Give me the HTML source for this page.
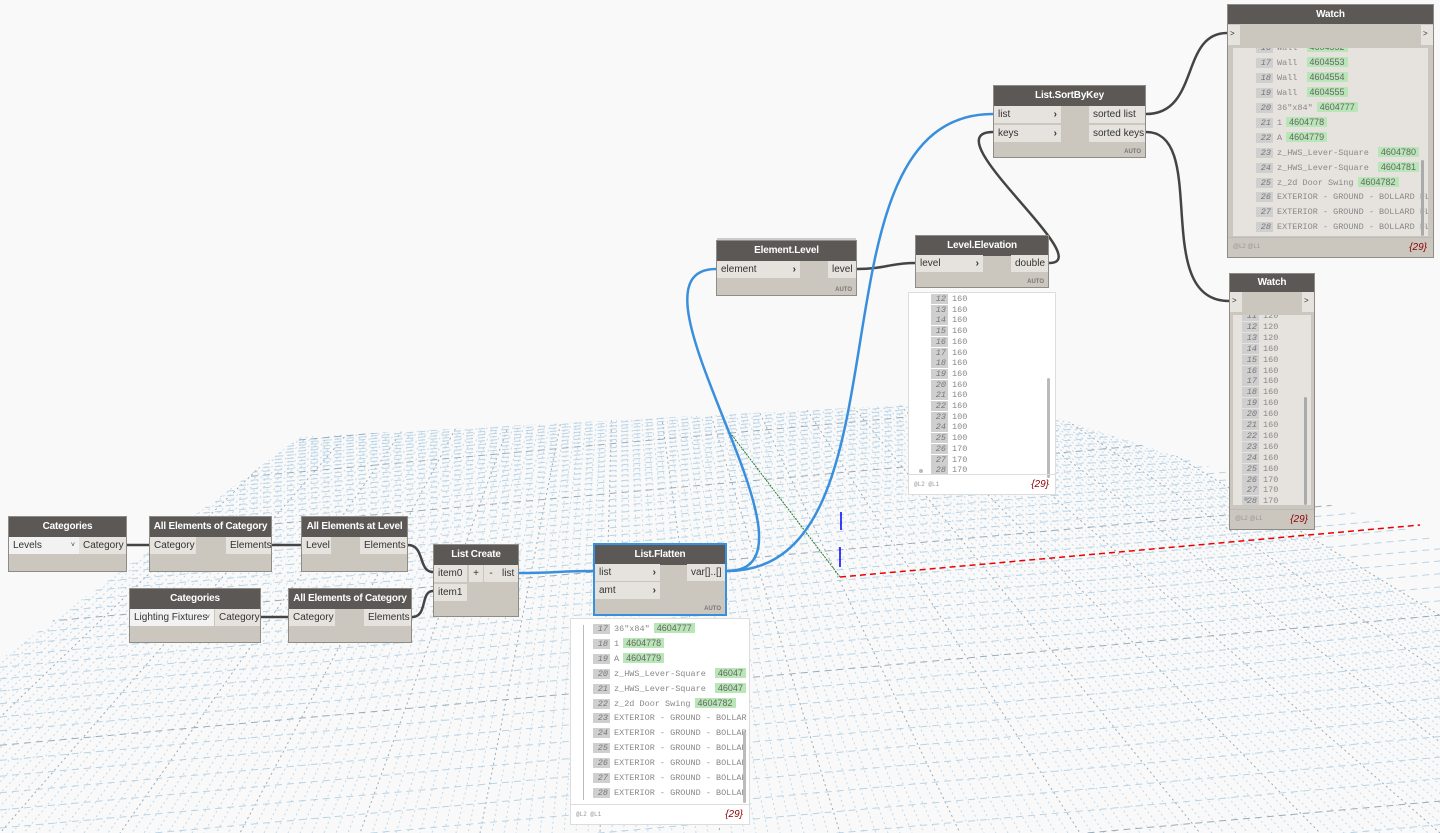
<!DOCTYPE html>
<html><head><meta charset="utf-8">
<style>
*{box-sizing:border-box;margin:0;padding:0}
html{overflow:hidden}
body{width:1440px;height:833px;background:#f9f9f9;position:relative;overflow:hidden;font-family:"Liberation Sans",sans-serif}
svg.bg{position:absolute;left:0;top:0}
.node{position:absolute;background:#cbc6be;border:1px solid #8f8c88}
.hd{background:#5b5855;color:#fff;font-weight:bold;font-size:10px;letter-spacing:-0.2px;text-align:center;height:20px;line-height:20px;white-space:nowrap;overflow:hidden}
.p{position:absolute;background:#e6e3de;font-size:10px;color:#333;height:17px;line-height:17px;padding-left:4px;white-space:nowrap}
.ar{position:absolute;right:4px;top:0;font-weight:bold;color:#333}
.auto{position:absolute;right:4px;bottom:2px;font-size:6px;font-weight:bold;color:#777}
.prev{position:absolute;background:#fff;border:1px solid #ddd;font-family:"Liberation Mono",monospace;font-size:8.5px;color:#888;overflow:hidden}
.r{position:absolute;white-space:nowrap}
.i{display:inline-block;background:#cfcfcf;color:#777;font-style:italic;width:17px;text-align:right;padding-right:2px;margin-right:4px;height:10px;line-height:10px}
.g{background:#b9e6b7;color:#666;padding:0 3px;margin-left:4px;font-family:"Liberation Sans",sans-serif;font-size:9px}
.ft{position:absolute;left:0;right:0;bottom:0;height:20px;border-top:1px solid #ddd;font-size:6px;color:#999;padding:6px 5px}
.ft b{position:absolute;right:6px;top:4px;font-size:10px;font-weight:normal;color:#8b0000;font-style:italic;font-family:"Liberation Sans",sans-serif}
.sb{position:absolute;width:3px;background:#bbb;border-radius:2px}
</style></head><body>
<svg class="bg" width="1440" height="833" id="grid">
<defs><clipPath id="cp"><polygon points="300,437 1000,400 1440,540 1440,833 0,833 0,660"/></clipPath></defs>
<g id="gl" clip-path="url(#cp)" fill="none"></g>
<line x1="728" y1="430" x2="840" y2="577" stroke="#2a7a2a" stroke-width="1" stroke-dasharray="2 1"/>
<polyline points="840,577 1420,525" stroke="#e00" stroke-width="1.5" stroke-dasharray="6 4" fill="none"/>
<line x1="841" y1="512" x2="841" y2="530" stroke="#00f" stroke-width="1.5"/>
<line x1="840" y1="547" x2="840" y2="567" stroke="#00f" stroke-width="1.5"/>
</svg>
<script>
(function(){var g=document.getElementById('gl'),s='',vx=620,vy=120;
for(var k=-60;k<=150;k++){var bx=k*12,c=(k%10==0)?'#98abba':'#c3d9e9';s+='<line x1="'+vx+'" y1="'+vy+'" x2="'+bx+'" y2="833" stroke="'+c+'" stroke-dasharray="2 3"/>';}
var y=437,gap=2.6,i=0;while(y<1100){var c=(i%10==0)?'#98abba':'#b8d3e6';s+='<line x1="0" y1="'+(y+30)+'" x2="1440" y2="'+(y-100)+'" stroke="'+c+'" stroke-dasharray="7 5"/>';y+=gap;gap*=1.045;i++;}
g.innerHTML=s;})();
</script>
<svg class="bg" width="1440" height="833" fill="none" stroke-width="2.5">
<g stroke="#444">
<path d="M127,545 L149,545"/><path d="M272,545 L301,545"/>
<path d="M408,545 C425,545 418,572 433,572"/>
<path d="M261,617 L288,617"/>
<path d="M412,617 C428,617 420,591 433,591"/>
<path d="M857,269 C885,269 890,263 915,263"/>
<path d="M1049,263 C1100,263 930,132 993,132"/>
<path d="M1146,114 C1200,114 1180,33 1227,33"/>
<path d="M1146,132 C1210,132 1150,301 1229,301"/>
</g>
<g stroke="#3a8fdc">
<path d="M519,573 C555,573 560,571 593,571"/>
<path d="M727,571 C840,571 610,269 716,269"/>
<path d="M727,571 C920,571 800,114 993,114"/>
</g>
</svg>

<div class="node" style="left:8px;top:516px;width:119px;height:56px"><div class="hd">Categories</div>
<div class="p" style="left:0;top:20px;width:70px;background:#f2f2f2">Levels<span class="ar" style="font-size:7px;font-weight:normal">˅</span></div>
<div class="p" style="right:0;top:20px;width:47px">Category</div></div>

<div class="node" style="left:149px;top:516px;width:123px;height:56px"><div class="hd">All Elements of Category</div>
<div class="p" style="left:0;top:20px;width:46px">Category</div>
<div class="p" style="right:0;top:20px;width:45px">Elements</div></div>

<div class="node" style="left:301px;top:516px;width:107px;height:56px"><div class="hd">All Elements at Level</div>
<div class="p" style="left:0;top:20px;width:29px">Level</div>
<div class="p" style="right:0;top:20px;width:47px">Elements</div></div>

<div class="node" style="left:129px;top:588px;width:132px;height:55px"><div class="hd">Categories</div>
<div class="p" style="left:0;top:20px;width:84px;background:#f2f2f2">Lighting Fixtures<span class="ar" style="font-size:7px;font-weight:normal">˅</span></div>
<div class="p" style="right:0;top:20px;width:45px">Category</div></div>

<div class="node" style="left:288px;top:588px;width:124px;height:55px"><div class="hd">All Elements of Category</div>
<div class="p" style="left:0;top:20px;width:46px">Category</div>
<div class="p" style="right:0;top:20px;width:47px">Elements</div></div>

<div class="node" style="left:433px;top:544px;width:86px;height:73px"><div class="hd">List Create</div>
<div class="p" style="left:0;top:20px;width:33px">item0</div>
<div class="p" style="left:35px;top:20px;width:14px;text-align:center;padding:0">+</div>
<div class="p" style="left:50px;top:20px;width:14px;text-align:center;padding:0">-</div>
<div class="p" style="right:0;top:20px;width:20px">list</div>
<div class="p" style="left:0;top:39px;width:33px">item1</div></div>

<div class="node" style="left:593px;top:543px;width:134px;height:73px;border:2px solid #3a8fdc"><div class="hd">List.Flatten</div>
<div class="p" style="left:0;top:19px;width:65px">list<span class="ar">›</span></div>
<div class="p" style="left:0;top:37px;width:65px">amt<span class="ar">›</span></div>
<div class="p" style="right:0;top:19px;width:38px">var[]..[]</div><div class="auto">AUTO</div></div>

<div class="prev" style="left:570px;top:618px;width:180px;height:207px">
<div style="position:absolute;left:12px;top:6px;width:1px;height:175px;background:#bbb"></div>
<div class="r" style="left:22px;top:4px"><span class="i">17</span>36"x84"<span class="g">4604777</span></div>
<div class="r" style="left:22px;top:19px"><span class="i">18</span>1<span class="g">4604778</span></div>
<div class="r" style="left:22px;top:34px"><span class="i">19</span>A<span class="g">4604779</span></div>
<div class="r" style="left:22px;top:49px"><span class="i">20</span>z_HWS_Lever-Square <span class="g">46047</span></div>
<div class="r" style="left:22px;top:64px"><span class="i">21</span>z_HWS_Lever-Square <span class="g">46047</span></div>
<div class="r" style="left:22px;top:79px"><span class="i">22</span>z_2d Door Swing<span class="g">4604782</span></div>
<div class="r" style="left:22px;top:94px"><span class="i">23</span>EXTERIOR - GROUND - BOLLAR</div>
<div class="r" style="left:22px;top:109px"><span class="i">24</span>EXTERIOR - GROUND - BOLLAR</div>
<div class="r" style="left:22px;top:124px"><span class="i">25</span>EXTERIOR - GROUND - BOLLAR</div>
<div class="r" style="left:22px;top:139px"><span class="i">26</span>EXTERIOR - GROUND - BOLLAR</div>
<div class="r" style="left:22px;top:154px"><span class="i">27</span>EXTERIOR - GROUND - BOLLAR</div>
<div class="r" style="left:22px;top:169px"><span class="i">28</span>EXTERIOR - GROUND - BOLLAR</div>
<div class="sb" style="left:172px;top:112px;height:72px"></div>
<div class="ft">@L2 @L1<b>{29}</b></div></div>

<div class="node" style="left:716px;top:240px;width:141px;height:56px;box-shadow:0 -3px 0 -1px #ccc"><div class="hd">Element.Level</div>
<div class="p" style="left:0;top:20px;width:83px">element<span class="ar">›</span></div>
<div class="p" style="right:0;top:20px;width:28px">level</div><div class="auto">AUTO</div></div>

<div class="node" style="left:915px;top:235px;width:134px;height:53px"><div class="hd">Level.Elevation</div>
<div class="p" style="left:0;top:19px;width:67px">level<span class="ar">›</span></div>
<div class="p" style="right:0;top:19px;width:37px">double</div><div class="auto">AUTO</div></div>

<div class="prev" style="left:908px;top:292px;width:148px;height:203px" id="ev"><div class="sb" style="left:138px;top:85px;height:100px"></div><div style="position:absolute;left:10px;top:176px;width:4px;height:4px;border-radius:2px;background:#bbb"></div><div class="ft">@L2 @L1<b>{29}</b></div></div>

<div class="node" style="left:993px;top:85px;width:153px;height:73px"><div class="hd">List.SortByKey</div>
<div class="p" style="left:0;top:20px;width:67px">list<span class="ar">›</span></div>
<div class="p" style="left:0;top:39px;width:67px">keys<span class="ar">›</span></div>
<div class="p" style="right:0;top:20px;width:56px">sorted list</div>
<div class="p" style="right:0;top:39px;width:56px">sorted keys</div><div class="auto">AUTO</div></div>

<div class="node" style="left:1227px;top:4px;width:207px;height:254px"><div class="hd" style="height:19px;line-height:19px">Watch</div>
<div class="p" style="left:0;top:20px;width:12px;height:20px;padding:0 2px;font-size:8px">&gt;</div>
<div class="p" style="right:0;top:20px;width:12px;height:20px;padding:0 2px;font-size:8px">&gt;</div>
<div class="prev" style="left:5px;top:43px;width:195px;height:188px;background:#e6e3de;border:none">
<div class="r" style="left:23px;top:-6px"><span class="i">16</span>Wall <span class="g">4604552</span></div>
<div class="r" style="left:23px;top:9px"><span class="i">17</span>Wall <span class="g">4604553</span></div>
<div class="r" style="left:23px;top:24px"><span class="i">18</span>Wall <span class="g">4604554</span></div>
<div class="r" style="left:23px;top:39px"><span class="i">19</span>Wall <span class="g">4604555</span></div>
<div class="r" style="left:23px;top:54px"><span class="i">20</span>36"x84"<span class="g">4604777</span></div>
<div class="r" style="left:23px;top:69px"><span class="i">21</span>1<span class="g">4604778</span></div>
<div class="r" style="left:23px;top:84px"><span class="i">22</span>A<span class="g">4604779</span></div>
<div class="r" style="left:23px;top:99px"><span class="i">23</span>z_HWS_Lever-Square <span class="g">4604780</span></div>
<div class="r" style="left:23px;top:114px"><span class="i">24</span>z_HWS_Lever-Square <span class="g">4604781</span></div>
<div class="r" style="left:23px;top:129px"><span class="i">25</span>z_2d Door Swing<span class="g">4604782</span></div>
<div class="r" style="left:23px;top:144px"><span class="i">26</span>EXTERIOR - GROUND - BOLLARD FL</div>
<div class="r" style="left:23px;top:159px"><span class="i">27</span>EXTERIOR - GROUND - BOLLARD FL</div>
<div class="r" style="left:23px;top:174px"><span class="i">28</span>EXTERIOR - GROUND - BOLLARD FL</div>
<div class="sb" style="left:188px;top:112px;height:76px;background:#aaa"></div></div>
<div class="ft" style="border-top:1px solid #bbb">@L2 @L1<b>{29}</b></div></div>

<div class="node" style="left:1229px;top:273px;width:86px;height:257px"><div class="hd" style="height:18px;line-height:18px">Watch</div>
<div class="p" style="left:0;top:18px;width:12px;height:20px;padding:0 2px;font-size:8px">&gt;</div>
<div class="p" style="right:0;top:18px;width:12px;height:20px;padding:0 2px;font-size:8px">&gt;</div>
<div class="prev" style="left:3px;top:41px;width:78px;height:190px;background:#e6e3de;border:none" id="w2"><div class="sb" style="left:71px;top:82px;height:108px;background:#aaa"></div></div>
<div class="ft" style="border-top:1px solid #bbb">@L2 @L1<b>{29}</b></div></div>

<script>
(function(){var ev=document.getElementById('ev'),v={12:160,13:160,14:160,15:160,16:160,17:160,18:160,19:160,20:160,21:160,22:160,23:100,24:100,25:100,26:170,27:170,28:170},s='';
for(var n=12;n<=28;n++){s+='<div class="r" style="left:22px;top:'+(1+(n-12)*10.7)+'px"><span class="i">'+n+'</span>'+v[n]+'</div>';}
ev.insertAdjacentHTML('afterbegin',s);
var w=document.getElementById('w2');s='';var t={11:120,12:120,13:120,26:170,27:170,28:170};
for(var n=11;n<=28;n++){s+='<div class="r" style="left:9px;top:'+(-4+(n-11)*10.9)+'px"><span class="i">'+n+'</span>'+(t[n]||160)+'</div>';}
s+='<div style="position:absolute;left:11px;top:182px;width:4px;height:4px;border-radius:2px;background:#aaa"></div>';
w.insertAdjacentHTML('afterbegin',s);})();
</script>
</body></html>
